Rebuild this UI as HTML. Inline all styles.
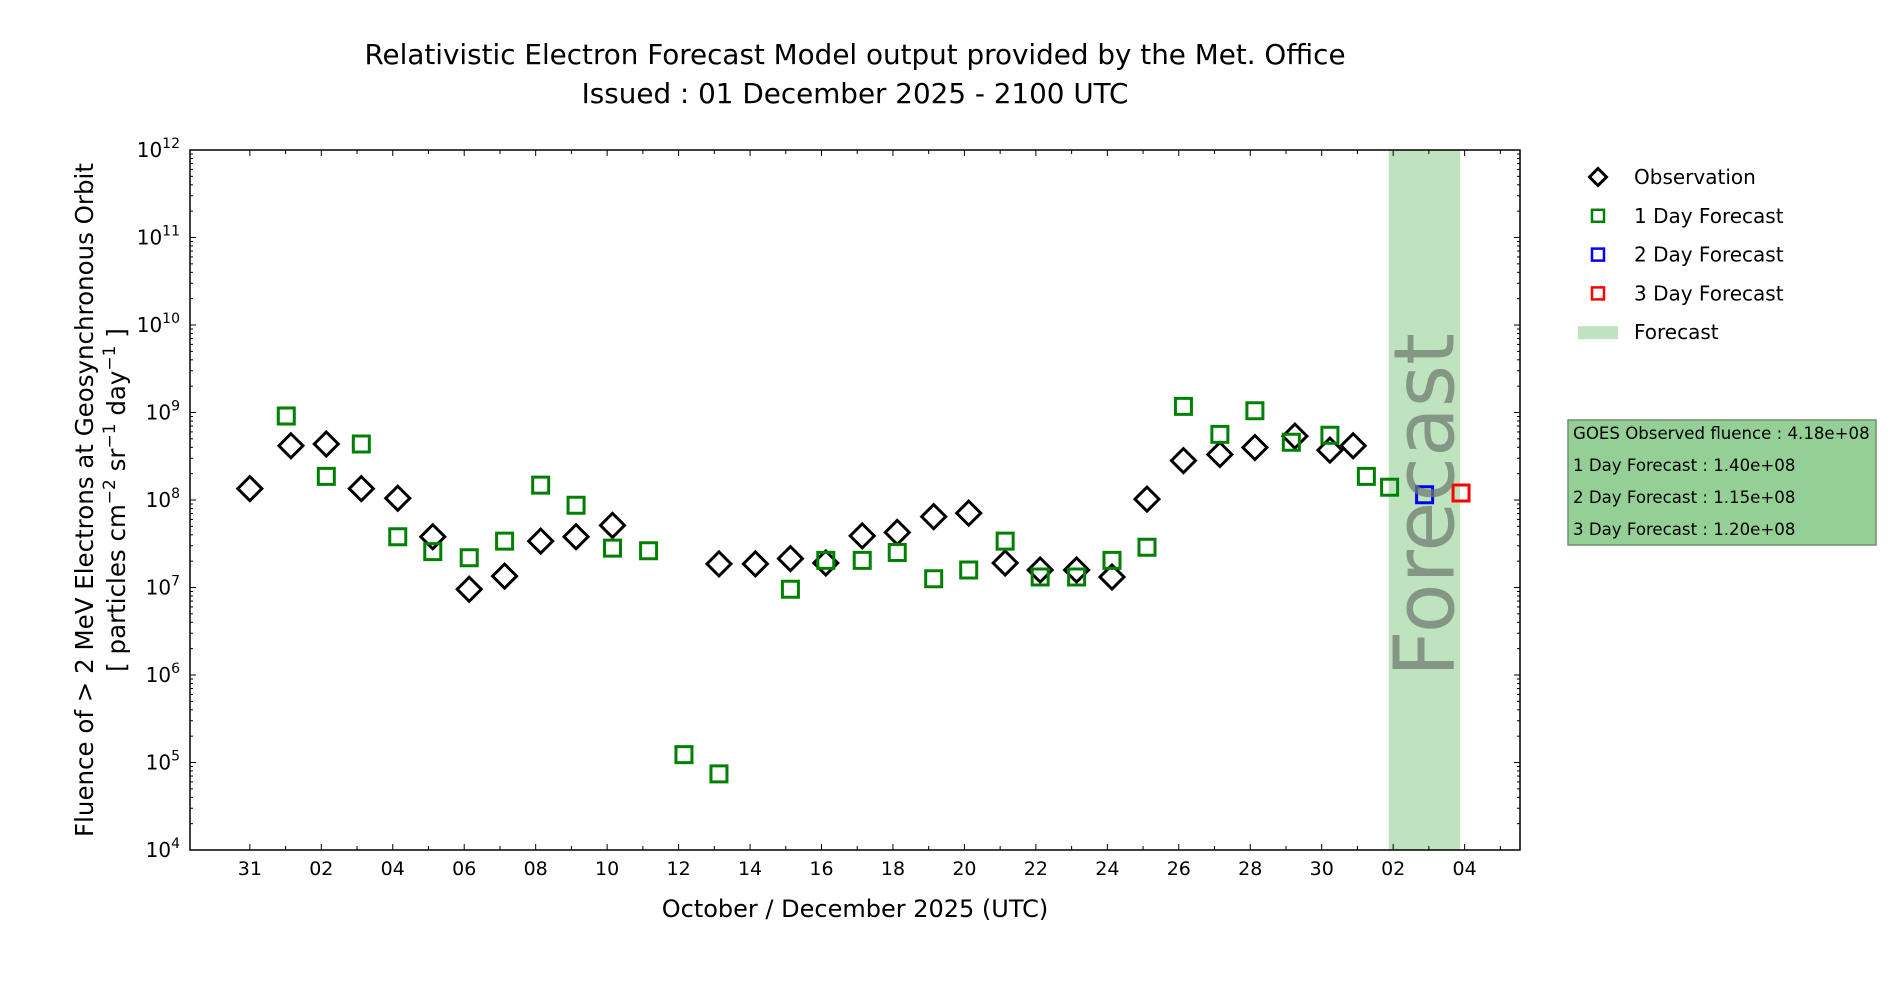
<!DOCTYPE html>
<html><head><meta charset="utf-8"><style>
html,body{margin:0;padding:0;background:#fff;}
svg{display:block;font-family:"DejaVu Sans","Liberation Sans",sans-serif;}
</style></head><body>
<svg id="chart" width="1900" height="1000" viewBox="0 0 1900 1000" xmlns="http://www.w3.org/2000/svg">
<g>
<text x="855" y="64" font-size="27.8" text-anchor="middle">Relativistic Electron Forecast Model output provided by the Met. Office</text>
<text x="855" y="103" font-size="27.8" text-anchor="middle">Issued : 01 December 2025 - 2100 UTC</text>
</g>
<g id="plot"></g>
<text x="855" y="917" font-size="24" text-anchor="middle">October / December 2025 (UTC)</text>
<g font-size="24.5" text-anchor="middle">
<text transform="translate(93,500) rotate(-90)">Fluence of &gt; 2 MeV Electrons at Geosynchronous Orbit</text>
<text transform="translate(125,500) rotate(-90)">[ particles cm<tspan dy="-10" font-size="17">−2</tspan><tspan dy="10"> sr</tspan><tspan dy="-10" font-size="17">−1</tspan><tspan dy="10"> day</tspan><tspan dy="-10" font-size="17">−1</tspan><tspan dy="10"> ]</tspan></text>
</g>
<g id="legend" font-size="20"></g>
<g>
<rect x="1568" y="420" width="308" height="125" fill="#94d095" stroke="#6f8f70" stroke-width="1.5"/>
<text x="1573" y="439" font-size="16.6">GOES Observed fluence : 4.18e+08</text>
<text x="1573" y="471" font-size="16.6">1 Day Forecast : 1.40e+08</text>
<text x="1573" y="503" font-size="16.6">2 Day Forecast : 1.15e+08</text>
<text x="1573" y="535" font-size="16.6">3 Day Forecast : 1.20e+08</text>
</g>
</svg>
<script>
// data: x in days since 31 Oct 2025 00:00 UTC, y = log10 fluence
const tickLabels = ["31","02","04","06","08","10","12","14","16","18","20","22","24","26","28","30","02","04"];
const obsDays = [0,1.15,2.14,3.12,4.14,5.12,6.14,7.13,8.14,9.13,10.15,13.13,14.15,15.13,16.12,17.14,18.12,19.14,20.12,21.14,22.12,23.14,24.13,25.11,26.13,27.15,28.13,29.25,30.23,30.88];
const obsLog = [8.13,8.62,8.64,8.13,8.02,7.58,6.98,7.13,7.53,7.58,7.71,7.27,7.27,7.33,7.28,7.59,7.63,7.81,7.85,7.28,7.20,7.20,7.12,8.01,8.45,8.52,8.60,8.73,8.57,8.62];
const f1Days = [1.02,2.14,3.12,4.14,5.12,6.14,7.13,8.14,9.13,10.15,11.16,12.15,13.13,15.13,16.12,17.14,18.12,19.14,20.12,21.14,22.12,23.14,24.13,25.11,26.13,27.15,28.13,29.15,30.23,31.25,31.9];
const f1Log = [8.96,8.27,8.64,7.58,7.41,7.34,7.53,8.17,7.94,7.45,7.42,5.09,4.87,6.98,7.31,7.31,7.40,7.10,7.20,7.53,7.12,7.12,7.31,7.46,9.07,8.75,9.02,8.66,8.74,8.27,8.146];
const f2Days = [32.88];
const f2Log = [8.06];
const f3Days = [33.9];
const f3Log = [8.08];
const forecastSpan = [31.875, 33.875];

const L=190,R=1520,T=150,B=850;
const X0=-1.675, X1=35.55, Y0=4, Y1=12;
const sx=d=>L+(d-X0)/(X1-X0)*(R-L);
const sy=v=>B-(v-Y0)/(Y1-Y0)*(B-T);
const NS="http://www.w3.org/2000/svg";
const plot=document.getElementById('plot');
function mk(tag,attrs,parent){const e=document.createElementNS(NS,tag);for(const k in attrs)e.setAttribute(k,attrs[k]);(parent||plot).appendChild(e);return e;}

const band=mk('rect',{x:sx(forecastSpan[0]),y:T,width:sx(forecastSpan[1])-sx(forecastSpan[0]),height:B-T,fill:'#bfe3bf'});



for(let i=0;i<=35;i++){
  const x=sx(i);if(x<L||x>R)continue;
  const major=(i%2===0);
  mk('line',{x1:x,x2:x,y1:B,y2:B-(major?6:4),stroke:'#000','stroke-width':1});
  mk('line',{x1:x,x2:x,y1:T,y2:T+(major?6:4),stroke:'#000','stroke-width':1});
}
tickLabels.forEach((lab,j)=>{
  const t=mk('text',{x:sx(j*2),y:B+25,'font-size':19,'text-anchor':'middle'});
  t.textContent=lab;
  
  
});
for(let p=Y0;p<=Y1;p++){
  const y=sy(p);
  mk('line',{x1:L,x2:L+6,y1:y,y2:y,stroke:'#000','stroke-width':1});
  mk('line',{x1:R,x2:R-6,y1:y,y2:y,stroke:'#000','stroke-width':1});
  if(p<Y1){for(let m=2;m<10;m++){const ym=sy(p+Math.log10(m));
    mk('line',{x1:L,x2:L+3,y1:ym,y2:ym,stroke:'#000','stroke-width':1});
    mk('line',{x1:R,x2:R-3,y1:ym,y2:ym,stroke:'#000','stroke-width':1});}}
  const t=mk('text',{x:L-10,y:y+7,'font-size':20,'text-anchor':'end'});
  
  
  t.innerHTML='10<tspan dy="-9" font-size="14">'+p+'</tspan>';
}

function diamond(x,y,r,parent){return mk('polygon',{points:`${x},${y-r} ${x+r},${y} ${x},${y+r} ${x-r},${y}`,fill:'none',stroke:'#000','stroke-width':3},parent);}
function square(x,y,s,c,parent){return mk('rect',{x:x-s/2,y:y-s/2,width:s,height:s,fill:'none',stroke:c,'stroke-width':3},parent);}

obsDays.forEach((d,i)=>{const e=diamond(sx(d),sy(obsLog[i]),12);
  
  });
f1Days.forEach((d,i)=>{const e=square(sx(d),sy(f1Log[i]),16,'#008000');
  
  });
f2Days.forEach((d,i)=>{const e=square(sx(d),sy(f2Log[i]),16,'#0000ff');
  
  });
f3Days.forEach((d,i)=>{const e=square(sx(d),sy(f3Log[i]),16,'#ff0000');
  
  });

const fx=(sx(forecastSpan[0])+sx(forecastSpan[1]))/2;
const ft=mk('text',{transform:`translate(${fx+29},505) rotate(-90)`,'font-size':84,'text-anchor':'middle',fill:'#6e7a6e','fill-opacity':0.72,textLength:344,lengthAdjust:'spacingAndGlyphs'});
ft.textContent='Forecast';



mk('rect',{x:L,y:T,width:R-L,height:B-T,fill:'none',stroke:'#000','stroke-width':1.5});

const lg=document.getElementById('legend');
const rows=[['Observation','d','#000'],['1 Day Forecast','s','#008000'],['2 Day Forecast','s','#0000ff'],['3 Day Forecast','s','#ff0000'],['Forecast','b','#bfe3bf']];
rows.forEach((r,i)=>{
  const y=177+i*38.8;
  const g=mk('g',{},lg);
  
  
  if(r[1]==='d')diamond(1598,y,8.5,g);
  else if(r[1]==='s'){const q=square(1598,y,12,r[2],g);q.setAttribute('stroke-width',2.5);}
  else mk('rect',{x:1578,y:y-6,width:40,height:13,fill:r[2]},g);
  const t=mk('text',{x:1634,y:y+7},g);t.textContent=r[0];
});
</script>
</body></html>
